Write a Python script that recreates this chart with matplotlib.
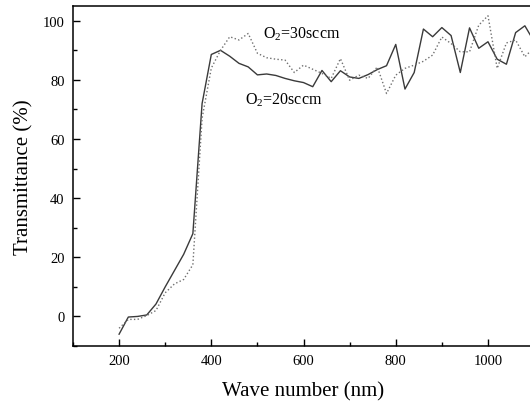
import numpy as np
import matplotlib
matplotlib.use("Agg")
import matplotlib.pyplot as plt
from matplotlib.ticker import MultipleLocator

plt.rcParams['font.family'] = ['Liberation Serif', 'DejaVu Serif']
plt.rcParams['mathtext.fontset'] = 'custom'
plt.rcParams['mathtext.rm'] = 'Liberation Serif'
plt.rcParams['mathtext.it'] = 'Liberation Serif:italic'

# wavelength grid (nm)
wave = [200, 220, 240, 260, 280, 300, 320, 340, 360, 380, 400, 420, 440, 460, 480,
        500, 520, 540, 560, 580, 600, 620, 640, 660, 680, 700, 720, 740, 760, 780,
        800, 820, 840, 860, 880, 900, 920, 940, 960, 980, 1000, 1020, 1040, 1060,
        1080, 1100]

# O2 = 20 sccm (solid)
t20 = [-6, -0.2, 0, 0.5, 4.2, 10, 15.5, 21, 28, 72, 88.6, 90, 88, 85.6, 84.4,
       81.7, 82, 81.5, 80.5, 79.7, 79.1, 77.7, 83.2, 79.4, 83.1, 81, 80.5, 81.8,
       83.5, 84.8, 92, 76.9, 82.5, 97.2, 94.6, 97.7, 95, 82.5, 97.6, 90.7, 92.9,
       87, 85.3, 96, 98.3, 93]

# O2 = 30 sccm (dotted)
t30 = [-4, -1, -1, 0.3, 2, 8, 11, 12.5, 17.5, 67, 84, 90, 94.6, 93.5, 95.7,
       89, 87.5, 87, 86.7, 82.5, 85, 83.6, 82.2, 80.5, 87.2, 79.9, 81.6, 80.5,
       84.4, 75.4, 81.6, 83.9, 85, 86.3, 88.4, 94.5, 92.3, 89.5, 89.5, 98.5,
       101.7, 83.9, 92.5, 93.5, 87.8, 91]

fig = plt.figure(figsize=(5.30, 4.06), dpi=100)
ax = fig.add_axes([0.1377, 0.1453, 0.87, 0.8375])

ax.plot(wave, t20, color='#3a3a3a', lw=1.0, ls='-')
ax.plot(wave, t30, color='#707070', lw=1.0, ls=':')

ax.text(512, 95.7, r'O$_2$=30sccm', fontsize=11.5, va='center', ha='left')
ax.text(473, 73.5, r'O$_2$=20sccm', fontsize=11.5, va='center', ha='left')

ax.set_xlim(100, 1100)
ax.set_ylim(-10, 105)
ax.xaxis.set_major_locator(MultipleLocator(200))
ax.xaxis.set_minor_locator(MultipleLocator(100))
ax.yaxis.set_major_locator(MultipleLocator(20))
ax.yaxis.set_minor_locator(MultipleLocator(10))
ax.set_xticks([200, 400, 600, 800, 1000])

ax.tick_params(which='both', direction='in', top=False, right=False,
               labelsize=10.5, width=1.0, pad=6)
ax.tick_params(which='major', length=5)
ax.tick_params(which='minor', length=3)
for s in ax.spines.values():
    s.set_linewidth(1.1)

ax.set_xlabel('Wave number (nm)', fontsize=15, labelpad=10)
ax.set_ylabel('Transmittance (%)', fontsize=15, labelpad=7)

fig.savefig('out.png', dpi=100)
